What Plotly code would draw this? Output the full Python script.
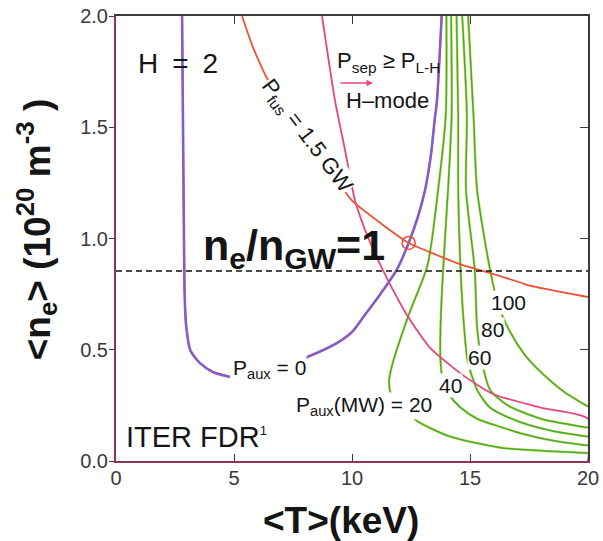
import plotly.graph_objects as go

# ---- axis ticks -------------------------------------------------------
t_ticks = [0, 5, 10, 15, 20]
t_tick_labels = ["0", "5", "10", "15", "20"]
ne_ticks = [0.0, 0.5, 1.0, 1.5, 2.0]
ne_tick_labels = ["0.0", "0.5", "1.0", "1.5", "2.0"]

# ---- Greenwald density limit -----------------------------------------
ne_greenwald = 0.854

# ---- Paux = 0 boundary (two branches) --------------------------------
paux0_left_T = [2.80, 2.84, 2.88, 2.90, 2.93, 2.98, 3.14, 3.35, 3.56, 4.10, 4.83]
paux0_left_ne = [2.0, 1.5, 1.0, 0.8, 0.68, 0.60, 0.50, 0.465, 0.44, 0.40, 0.378]

paux0_right_T = [8.0, 8.6, 9.36, 10.0, 10.5, 11.2, 11.9, 12.4, 12.8, 13.1, 13.35, 13.5, 13.6, 13.8]
paux0_right_ne = [0.463, 0.49, 0.53, 0.58, 0.65, 0.75, 0.86, 0.98, 1.10, 1.22, 1.38, 1.53, 1.62, 2.0]

# ---- fusion power contour, Pfus = 1.5 GW ------------------------------
pfus_T = [5.34, 5.8, 6.4, 7.3, 8.2, 9.1, 10.0, 11.2, 12.4, 13.5, 14.7, 15.85, 17.2, 17.4, 18.6, 20.0]
pfus_ne = [2.0, 1.86, 1.72, 1.58, 1.44, 1.30, 1.17, 1.07, 0.98, 0.93, 0.88, 0.845, 0.80, 0.792, 0.765, 0.737]

# operating point
op_T = [12.4]
op_ne = [0.98]

# ---- L-H threshold boundary, Psep >= PL-H ------------------------------
plh_T = [8.73, 9.28, 9.7, 10.13, 10.7, 11.3, 12.33, 13.3, 14.7, 16.0, 18.0, 20.0, 20.0]
plh_ne = [2.0, 1.62, 1.40, 1.17, 1.0, 0.86, 0.656, 0.51, 0.386, 0.30, 0.24, 0.19, 0.0]

# ---- auxiliary power contours (MW) ------------------------------------
paux_levels = [20, 40, 60, 80, 100]
paux20_T = [14.0, 13.97, 13.65, 13.2, 12.4, 11.7, 11.57, 11.65, 11.9, 12.75, 14.15, 16.3, 18.2, 20.0]
paux20_ne = [2.0, 1.55, 1.22, 0.88, 0.656, 0.43, 0.36, 0.30, 0.26, 0.18, 0.11, 0.06, 0.045, 0.036]
paux40_T = [14.2, 14.22, 14.07, 13.86, 13.75, 13.75, 13.85, 14.1, 14.6, 15.3, 16.1, 17.3, 18.6, 20.0]
paux40_ne = [2.0, 1.55, 1.22, 0.86, 0.60, 0.45, 0.36, 0.30, 0.24, 0.19, 0.16, 0.12, 0.09, 0.07]
paux60_T = [14.43, 14.5, 14.5, 14.6, 14.75, 14.9, 15.3, 15.85, 17.0, 18.5, 20.0]
paux60_ne = [2.0, 1.55, 1.22, 0.86, 0.60, 0.45, 0.32, 0.24, 0.18, 0.135, 0.11]
paux80_T = [14.67, 14.87, 14.83, 15.2, 15.3, 15.5, 15.85, 16.6, 18.0, 20.0]
paux80_ne = [2.0, 1.55, 1.22, 0.86, 0.60, 0.45, 0.32, 0.25, 0.19, 0.15]
paux100_T = [14.92, 15.15, 15.3, 15.85, 16.2, 16.7, 17.3, 18.0, 19.0, 20.0]
paux100_ne = [2.0, 1.55, 1.22, 0.86, 0.70, 0.58, 0.48, 0.40, 0.31, 0.245]
paux_T = [paux20_T, paux40_T, paux60_T, paux80_T, paux100_T]
paux_ne = [paux20_ne, paux40_ne, paux60_ne, paux80_ne, paux100_ne]

# ---- colours ----------------------------------------------------------
PINK = "#e8457c"
BLUE = "#5f6ae0"
RED = "#ec5336"
GREEN = "#3faa48"
YELLOW = "#dfe24a"
TEXT = "#151515"
FONT = "Liberation Sans, Arial, sans-serif"

fig = go.Figure()


def two_tone(x, y, under, over, w_under=3.2, w_over=1.4):
    """Draw a curve as a thin line over a wider, differently coloured one."""
    fig.add_trace(go.Scatter(x=x, y=y, mode="lines", hoverinfo="skip",
                             line=dict(color=under, width=w_under, shape="spline", smoothing=0.7)))
    fig.add_trace(go.Scatter(x=x, y=y, mode="lines", hoverinfo="skip",
                             line=dict(color=over, width=w_over, shape="spline", smoothing=0.7)))


# Paux contours
for xs, ys in zip(paux_T, paux_ne):
    two_tone(xs, ys, YELLOW, GREEN, 2.6, 1.5)

# L-H threshold
fig.add_trace(go.Scatter(x=plh_T, y=plh_ne, mode="lines", hoverinfo="skip",
                         line=dict(color=PINK, width=1.8, shape="spline", smoothing=0.6)))

# Paux = 0 boundary
two_tone(paux0_left_T, paux0_left_ne, PINK, BLUE, 2.6, 1.8)
two_tone(paux0_right_T, paux0_right_ne, PINK, BLUE, 2.6, 1.8)

# Pfus contour
fig.add_trace(go.Scatter(x=pfus_T, y=pfus_ne, mode="lines", hoverinfo="skip",
                         line=dict(color=RED, width=1.8, shape="spline", smoothing=0.5)))

# Greenwald limit
fig.add_trace(go.Scatter(x=[t_ticks[0], t_ticks[-1]], y=[ne_greenwald, ne_greenwald],
                         mode="lines", hoverinfo="skip",
                         line=dict(color="#111111", width=1.4, dash="6px,4px")))

# operating point
fig.add_trace(go.Scatter(x=op_T, y=op_ne, mode="markers", hoverinfo="skip",
                         marker=dict(symbol="circle-open", size=13, color=RED, line=dict(width=1.6, color=RED))))

# helper trace for the mirrored (top/right) axes
fig.add_trace(go.Scatter(x=[t_ticks[0]], y=[ne_ticks[0]], xaxis="x2", yaxis="y2", mode="markers",
                         marker=dict(opacity=0), hoverinfo="skip"))


def T(px):
    return (px - 116) / 23.6


def N(py):
    return (461 - py) / 222.5


annotations = []


def label(text, x, y, size, xanchor="left", angle=0, bg=None, bold=False, color=TEXT):
    if bold:
        text = "<b>" + text + "</b>"
    d = dict(text=text, x=x, y=y, xref="x", yref="y", showarrow=False, xanchor=xanchor,
             yanchor="middle", textangle=angle, font=dict(family=FONT, size=size, color=color),
             borderpad=0)
    if bg:
        d["bgcolor"] = bg
    annotations.append(d)


label("H\u2002=\u20022", T(137), N(63), 28)
label("ITER FDR<sup><span style='font-size:13px'>1</span></sup>", T(125), N(437), 29)
label("P<sub>sep</sub> ≥ P<sub>L-H</sub>", T(336), N(62), 22)
label("H–mode", T(345), N(100), 22)
label("n<sub>e</sub>/n<sub>GW</sub>=1", T(202), N(248), 43, bold=True)
label("P<sub>fus</sub> = 1.5 GW", T(306), N(136), 22, xanchor="center", angle=53, bg="white")
label("P<sub>aux</sub> = 0", T(232), N(369), 21, bg="white")
label("P<sub>aux</sub>(MW) = 20", T(295), N(406), 21, bg="white")
for lev, px, py in zip(paux_levels[1:], [438, 467, 480, 490], [385, 357, 329, 302]):
    label(str(lev), T(px), N(py), 21, bg="white")

# H-mode arrow
annotations.append(dict(x=T(373), y=N(83), ax=T(339), ay=N(83), xref="x", yref="y",
                        axref="x", ayref="y", showarrow=True, arrowhead=2, arrowsize=0.8,
                        arrowwidth=1.6, arrowcolor=PINK, text=""))

# axis titles
annotations.append(dict(text="<b>&lt;T&gt;(keV)</b>", x=0.477, xref="paper", y=-0.133, yref="paper",
                        xanchor="center", yanchor="middle", showarrow=False,
                        font=dict(family=FONT, size=37, color=TEXT)))
annotations.append(dict(text="<b>&lt;n<sub>e</sub>&gt; (10<sup>20</sup> m<sup>-3</sup> )</b>",
                        x=-0.168, xref="paper", y=0.52, yref="paper", textangle=-90,
                        xanchor="center", yanchor="middle", showarrow=False,
                        font=dict(family=FONT, size=37, color=TEXT)))

FRAME_LO = "#8f3358"
FRAME_HI = "#3a3a3a"
tickfont = dict(family=FONT, size=20, color="#3a3a3a")

fig.update_layout(
    width=603, height=541,
    margin=dict(l=116, r=15, t=16, b=80, autoexpand=False),
    paper_bgcolor="white", plot_bgcolor="white",
    showlegend=False,
    annotations=annotations,
    xaxis=dict(range=[0, 20], tickvals=t_ticks, ticktext=t_tick_labels, ticks="inside",
               ticklen=7, tickwidth=1.2, tickcolor=FRAME_HI, showline=True, linecolor=FRAME_LO,
               linewidth=2, showgrid=False, zeroline=False, tickfont=tickfont,
               ticklabelstandoff=-2, automargin=False),
    yaxis=dict(range=[0, 2], tickvals=ne_ticks, ticktext=ne_tick_labels, ticks="outside",
               ticklen=5, tickwidth=1.2, tickcolor=FRAME_HI, showline=True, linecolor=FRAME_LO,
               linewidth=2, showgrid=False, zeroline=False, tickfont=tickfont,
               ticklabelstandoff=-3, automargin=False),
    xaxis2=dict(range=[0, 20], overlaying="x", side="top", tickvals=t_ticks, showticklabels=False,
                ticks="inside", ticklen=8, tickwidth=1.2, tickcolor=FRAME_HI, showline=True,
                linecolor=FRAME_HI, linewidth=1.6, showgrid=False, zeroline=False, automargin=False),
    yaxis2=dict(range=[0, 2], overlaying="y", side="right", tickvals=ne_ticks, showticklabels=False,
                ticks="inside", ticklen=8, tickwidth=1.2, tickcolor=FRAME_HI, showline=True,
                linecolor=FRAME_HI, linewidth=1.6, showgrid=False, zeroline=False, automargin=False),
)

fig.write_html("out.html")
